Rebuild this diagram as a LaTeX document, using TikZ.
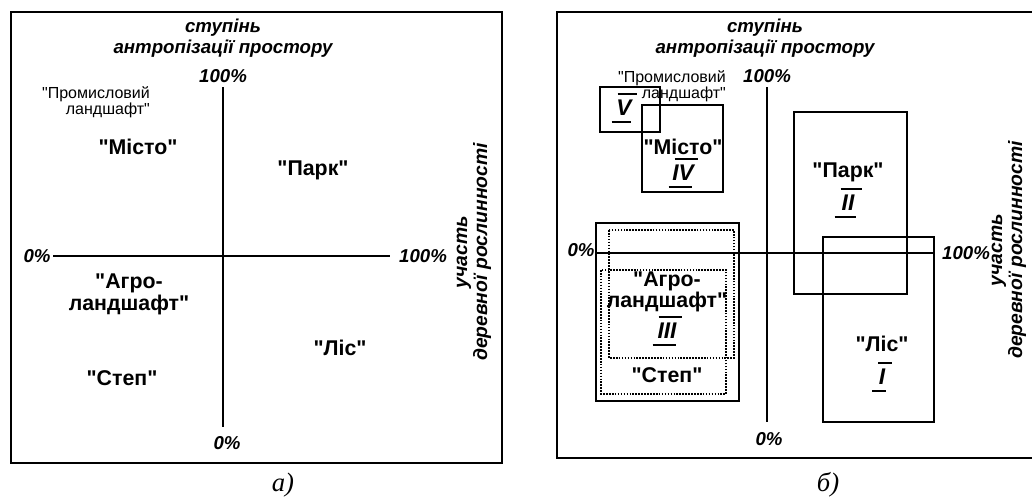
\documentclass[tikz,border=0pt]{standalone}
\usepackage{fontspec}
\setmainfont{Liberation Sans}[Ligatures=TeXOff]
\newfontfamily\capserif{Liberation Serif}[Ligatures=TeXOff]
\tikzset{
  frame/.style={draw, line width=2.2pt},
  axisline/.style={draw, line width=1pt},
  boxr/.style={draw, line width=1.5pt},
  boxthick/.style={draw, line width=2pt},
  dotbox/.style={draw, densely dotted, line width=1.2pt},
  ax/.style={font=\fontsize{14}{15.75}\selectfont\bfseries\itshape, align=center, inner sep=0pt},
  axv/.style={font=\fontsize{14.5}{15}\selectfont\bfseries\itshape, align=center, inner sep=0pt},
  lbl/.style={font=\fontsize{16}{16.5}\selectfont\bfseries, align=center, inner sep=0pt},
  lblt/.style={font=\fontsize{16}{14.5}\selectfont\bfseries, align=center, inner sep=0pt},
  sm/.style={font=\fontsize{12}{9}\selectfont, align=right, inner sep=0pt},
  smr/.style={font=\fontsize{12}{10.5}\selectfont, align=right, inner sep=0pt},
  rom/.style={font=\fontsize{17}{17}\selectfont\bfseries\itshape, inner sep=0pt},
  bar/.style={draw, line width=1.6pt},
  captxt/.style={font=\fontsize{20}{20}\selectfont\capserif\itshape, inner sep=0pt}
}
\newcommand\romlbl[4]{%
  \node[rom] (#1) at #2 {#3};
  \draw[bar] ([shift={(-#4+3,-14)}]#1.center) -- ([shift={(#4+3,-14)}]#1.center);
  \draw[bar] ([shift={(-#4-3,14)}]#1.center) -- ([shift={(#4-3,14)}]#1.center);
}
\begin{document}
\begin{tikzpicture}[x=0.75pt,y=-0.75pt]
\useasboundingbox (0,0) rectangle (1032,497);
% ---------------- panel a ----------------
\draw[frame] (11,12) rectangle (502,463);
\coordinate (aT) at (223,87);
\coordinate (aB) at (223,427);
\coordinate (aL) at (53,256);
\coordinate (aR) at (390,256);
\draw[axisline] (aT) -- (aB);
\draw[axisline] (aL) -- (aR);
\node[ax] (aTitle) at (223,38.5) {ступінь\\антропізації простору};
\node[ax] (a100t) at (223,76) {100\%};
\node[ax] (a0b) at (227,443) {0\%};
\node[ax] (a0l) at (37,256) {0\%};
\node[ax] (a100r) at (423,256) {100\%};
\node[axv, rotate=90] (aVert) at (474,252) {участь\\деревної рослинності};
\node[sm] (aProm) at (96,102.5) {"Промисловий\\ландшафт"};
\node[lbl] (aMisto) at (138,147) {"Місто"};
\node[lbl] (aPark) at (313,170) {"Парк"};
\node[lbl] (aAgro) at (129,294) {"Агро-\\ландшафт"};
\node[lbl] (aStep) at (122,378) {"Степ"};
\node[lbl] (aLis) at (340,348) {"Ліс"};
\node[captxt] (aCap) at (283,485) {а)};
% ---------------- panel b ----------------
\draw[frame] (557,12) rectangle (1036,458);
\coordinate (bT) at (767,87);
\coordinate (bB) at (767,422);
\coordinate (bL) at (595,253);
\coordinate (bR) at (935,253);
\draw[axisline] (bT) -- (bB);
\draw[draw, line width=0.8pt] (bL) -- (bR);
\node[ax] (bTitle) at (765,38.5) {ступінь\\антропізації простору};
\node[ax] (b100t) at (767,76) {100\%};
\node[ax] (b0b) at (769,439) {0\%};
\node[ax] (b0l) at (581,250) {0\%};
\node[ax] (b100r) at (966,253) {100\%};
\node[axv, rotate=90] (bVert) at (1009,250) {участь\\деревної рослинності};
% boxes
\draw[boxr] (600,87) rectangle (660,132);
\draw[boxr] (642,105) rectangle (723,192);
\draw[boxr] (794,112) rectangle (907,294);
\draw[boxr] (823,237) rectangle (934,422);
\draw[boxthick] (596,223) rectangle (739,401);
\draw[dotbox] (609,230) rectangle (734,358);
\draw[dotbox] (601,270) rectangle (726,394);
% labels
\node[smr] (bProm) at (672,86) {"Промисловий\\ландшафт"};
\romlbl{bV}{(624,108)}{V}{9.5}
\node[lbl] (bMisto) at (683,147) {"Місто"};
\romlbl{bIV}{(683,173)}{IV}{11.5}
\node[lbl] (bPark) at (848,172) {"Парк"};
\romlbl{bII}{(848,203)}{II}{10.5}
\node[lblt] (bAgro) at (667,292) {"Агро-\\ландшафт"};
\romlbl{bIII}{(667,331)}{III}{11.5}
\node[lbl] (bStep) at (667,375) {"Степ"};
\node[lbl] (bLis) at (882,344) {"Ліс"};
\romlbl{bI}{(882,377)}{I}{7}
\node[captxt] (bCap) at (828,485) {б)};
\end{tikzpicture}
\end{document}
